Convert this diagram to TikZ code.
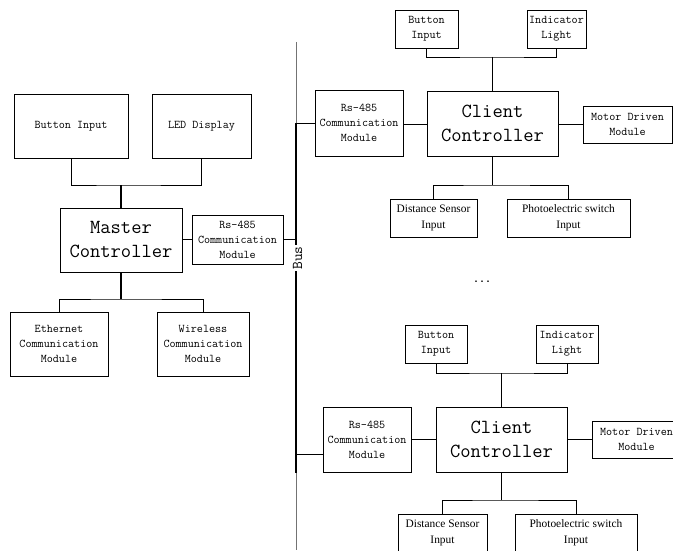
\documentclass[tikz,border=0pt]{standalone}
\usepackage{fontspec}
\newfontfamily\timesf{Liberation Serif}
\newfontfamily\monof{Liberation Mono}
\begin{document}
\begin{tikzpicture}[x=1pt,y=-1pt,
  box/.style={draw, line width=0.7pt, inner sep=0pt, align=center,
    font=\ttfamily\fontsize{11.8}{15}\selectfont},
  bigbox/.style={box, font=\ttfamily\fontsize{20}{24}\selectfont},
  tbox/.style={box, font=\timesf\fontsize{11.4}{15.5}\selectfont},
  conn/.style={line width=0.8pt},
  stem/.style={line width=1.5pt},
  busthick/.style={line width=2pt},
  busthin/.style={line width=1pt, black!55}]
\useasboundingbox (0,0) rectangle (673,551);
\clip (0,0) rectangle (673,551);

% ---------- left: master side ----------
\node[box, minimum width=114pt, minimum height=64pt] (lbi) at (71,126) {Button Input};
\node[box, minimum width=99pt, minimum height=64pt] (lled) at (201.5,126) {LED Display};
\node[bigbox, minimum width=122pt, minimum height=64pt] (master) at (121,240) {Master\\Controller};
\node[box, minimum width=91pt, minimum height=49pt] (lrs) at (237.5,239.5) {Rs-485\\Communication\\Module};
\node[box, minimum width=98pt, minimum height=64pt] (eth) at (59,344) {Ethernet\\Communication\\Module};
\node[box, minimum width=92pt, minimum height=64pt] (wless) at (203,344) {Wireless\\Communication\\Module};

\coordinate (ltop) at (121,185);
\coordinate (lbot) at (121,299);
\draw[conn] (lbi.south) |- (ltop) -| (lled.south);
\draw[stem] (ltop) -- (master.north);
\draw[stem] (master.south) -- (lbot);
\draw[conn] (eth.north) |- (lbot) -| (wless.north);

% ---------- bus ----------
\coordinate (bustop) at (296,42);
\coordinate (busA) at (296,123);
\coordinate (busB) at (296,473);
\coordinate (busbot) at (296,550);
\draw[busthin] (bustop) -- (busA);
\draw[busthick] (busA) -- (busB);
\draw[busthin] (busB) -- (busbot);
\node[fill=white, inner sep=1.5pt, rotate=90, font=\ttfamily\fontsize{15}{17}\selectfont] (buslbl) at (297.5,258) {Bus};

\draw[conn] (lrs.west) -- (lrs.west -| master.east);
\draw[conn] (lrs.east) -- (lrs.east -| bustop);

% ---------- top right client ----------
\node[box, minimum width=63pt, minimum height=38pt] (tbi) at (426.5,29) {Button\\Input};
\node[box, minimum width=59pt, minimum height=38pt] (til) at (556.5,29) {Indicator\\Light};
\node[bigbox, minimum width=131pt, minimum height=65pt] (tcc) at (492.5,123.5) {Client\\Controller};
\node[box, minimum width=88pt, minimum height=66pt] (trs) at (359,123) {Rs-485\\Communication\\Module};
\node[box, minimum width=89pt, minimum height=37pt] (tmd) at (627.5,124.5) {Motor Driven\\Module};
\node[tbox, minimum width=87pt, minimum height=38pt] (tds) at (433.5,218) {Distance Sensor\\Input};
\node[tbox, minimum width=123pt, minimum height=38pt] (tps) at (568.5,218) {Photoelectric switch\\Input};

\coordinate (ttop) at (492.5,57);
\coordinate (tbot) at (492.5,185);
\draw[conn] (tbi.south) |- (ttop) -| (til.south);
\draw[stem] (ttop) -- (tcc.north);
\draw[stem] (tcc.south) -- (tbot);
\draw[conn] (tds.north) |- (tbot) -| (tps.north);
\draw[conn] (trs.west) -- (trs.west -| bustop);
\draw[conn] ([yshift=-1pt]trs.east) -- ([yshift=-1pt]trs.east -| tcc.west);
\draw[conn] (tmd.west) -- (tmd.west -| tcc.east);

\node[font=\monof\bfseries\fontsize{10}{12}\selectfont] (dots) at (482,282) {...};

% ---------- bottom right client ----------
\node[box, minimum width=62pt, minimum height=38pt] (bbi) at (436,344) {Button\\Input};
\node[box, minimum width=62pt, minimum height=38pt] (bil) at (567,344) {Indicator\\Light};
\node[bigbox, minimum width=131pt, minimum height=65pt] (bcc) at (501.5,439.5) {Client\\Controller};
\node[box, minimum width=88pt, minimum height=65pt] (brs) at (367,439.5) {Rs-485\\Communication\\Module};
\node[box, minimum width=89pt, minimum height=37pt] (bmd) at (636.5,439.5) {Motor Driven\\Module};
\node[tbox, minimum width=89pt, minimum height=38pt] (bds) at (442.5,533) {Distance Sensor\\Input};
\node[tbox, minimum width=122pt, minimum height=38pt] (bps) at (576,533) {Photoelectric switch\\Input};

\coordinate (btop) at (501.5,373);
\coordinate (bbot) at (501.5,500);
\draw[conn] (bbi.south) |- (btop) -| (bil.south);
\draw[stem] (btop) -- (bcc.north);
\draw[stem] (bcc.south) -- (bbot);
\draw[conn] (bds.north) |- (bbot) -| (bps.north);
\draw[conn] ([yshift=-14.5pt]brs.west) -- ([yshift=-14.5pt]brs.west -| bustop);
\draw[conn] (brs.east) -- (bcc.west);
\draw[conn] (bcc.east) -- (bmd.west);
\end{tikzpicture}
\end{document}
